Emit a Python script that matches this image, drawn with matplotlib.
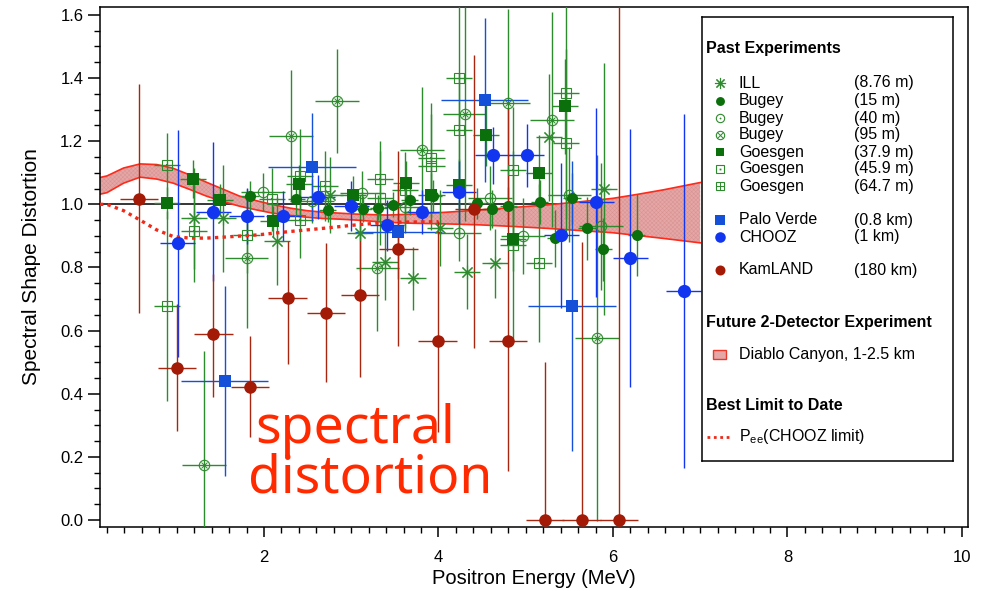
import numpy as np
import matplotlib
matplotlib.use("Agg")
import matplotlib.pyplot as plt
from matplotlib.ticker import MultipleLocator
from matplotlib.patches import Rectangle

plt.rcParams['font.family'] = ['Liberation Sans', 'DejaVu Sans']
plt.rcParams['hatch.linewidth'] = 0.35

# ---- data ----
# KamLAND (180 km)
kam_e = [0.57, 1.00, 1.42, 1.84, 2.27, 2.71, 3.10, 3.54, 3.99, 4.41, 4.80, 5.22, 5.64, 6.07]
kam_v = [1.017, 0.483, 0.59, 0.422, 0.703, 0.657, 0.713, 0.86, 0.568, 0.984, 0.566, 0.0, 0.0, 0.0]
kam_lo = [0.36, 0.20, 0.20, 0.16, 0.21, 0.22, 0.26, 0.31, 0.29, 0.44, 0.41, 0.0, 0.0, 0.0]
kam_hi = [0.365, 0.20, 0.19, 0.16, 0.18, 0.22, 0.24, 0.31, 0.38, 0.49, 0.74, 0.50, 0.88, 1.65]
kam_ex = 0.22

# CHOOZ (1 km)
ch_e = [1.01, 1.42, 1.80, 2.22, 2.615, 3.00, 3.41, 3.81, 4.235, 4.62, 5.01, 5.41, 5.81, 6.20, 6.81]
ch_v = [0.877, 0.977, 0.963, 0.963, 1.022, 0.994, 0.933, 0.976, 1.038, 1.155, 1.155, 0.902, 1.006, 0.83, 0.726]
ch_ey = [0.36, 0.22, 0.09, 0.08, 0.07, 0.08, 0.08, 0.07, 0.10, 0.09, 0.10, 0.23, 0.30, 0.41, 0.56]
ch_ex = 0.2

# Palo Verde (0.8 km)
pv_e = [1.55, 2.55, 3.54, 4.53, 5.53]
pv_v = [0.44, 1.118, 0.912, 1.331, 0.678]
pv_ey = [0.30, 0.17, 0.15, 0.26, 0.46]
pv_ex = 0.5

# ILL (8.76 m)
ill_e = [1.20, 1.53, 2.15, 2.76, 3.10, 3.39, 3.71, 4.02, 4.33, 4.65, 5.27, 5.90]
ill_v = [0.956, 0.956, 0.883, 1.03, 0.91, 0.816, 0.766, 0.924, 0.787, 0.813, 1.212, 1.048]
ill_ey = [0.16, 0.17, 0.14, 0.12, 0.12, 0.12, 0.10, 0.12, 0.12, 0.11, 0.20, 0.40]
ill_ex = 0.15

# Bugey (15 m)
b15_e = [1.84, 2.37, 2.73, 3.14, 3.31, 3.48, 3.67, 3.94, 4.44, 4.61, 4.80, 5.16, 5.34, 5.53, 5.70, 5.89, 6.27]
b15_v = [1.025, 1.017, 0.983, 0.985, 0.989, 0.999, 1.015, 1.026, 1.003, 0.984, 0.994, 1.008, 0.892, 1.019, 0.924, 0.858, 0.903]
b15_ey = [0.05, 0.05, 0.04, 0.04, 0.04, 0.04, 0.05, 0.05, 0.05, 0.06, 0.06, 0.07, 0.09, 0.08, 0.10, 0.10, 0.13]
b15_ex = 0.1

# Bugey (40 m)
b40_e = [1.99, 2.55, 3.12, 3.62, 4.235, 4.59, 4.97, 5.50, 5.86]
b40_v = [1.04, 1.01, 1.036, 0.99, 0.91, 1.02, 0.899, 1.03, 0.93]
b40_ey = [0.06, 0.07, 0.07, 0.08, 0.09, 0.10, 0.12, 0.15, 0.20]
b40_ex = 0.25

# Bugey (95 m)
b95_e = [1.31, 1.80, 2.31, 2.84, 3.30, 3.81, 4.30, 4.80, 5.30, 5.82]
b95_v = [0.174, 0.829, 1.217, 1.328, 0.798, 1.172, 1.286, 1.32, 1.268, 0.577]
b95_ey = [0.36, 0.22, 0.21, 0.165, 0.20, 0.20, 0.34, 0.30, 0.34, 0.58]
b95_ex = 0.25

# Goesgen (37.9 m)
g38_e = [0.885, 1.19, 1.50, 2.10, 2.40, 3.02, 3.63, 3.92, 4.235, 4.545, 4.85, 5.15, 5.45]
g38_v = [1.005, 1.079, 1.014, 0.946, 1.065, 1.03, 1.067, 1.03, 1.062, 1.22, 0.889, 1.10, 1.31]
g38_ey = [0.05, 0.06, 0.05, 0.05, 0.06, 0.06, 0.07, 0.07, 0.08, 0.10, 0.10, 0.12, 0.15]
g38_ex = 0.15

# Goesgen (45.9 m)
g46_e = [0.885, 1.20, 1.80, 2.09, 2.41, 2.70, 3.33, 3.62, 3.92, 4.235, 4.85, 5.15, 5.46]
g46_v = [1.125, 0.914, 0.903, 1.016, 0.95, 1.058, 1.079, 1.046, 1.146, 1.236, 1.109, 0.813, 1.193]
g46_ey = [0.10, 0.16, 0.12, 0.10, 0.12, 0.11, 0.12, 0.12, 0.14, 0.18, 0.20, 0.25, 0.30]
g46_ex = 0.15

# Goesgen (64.7 m)
g65_e = [0.885, 2.41, 3.33, 3.92, 4.235, 4.85, 5.46]
g65_v = [0.678, 1.09, 1.02, 1.12, 1.40, 0.87, 1.352]
g65_ey = [0.30, 0.15, 0.15, 0.20, 0.50, 0.30, 0.40]
g65_ex = 0.15

# Diablo Canyon band
band_e = [0.12, 0.2, 0.39, 0.58, 0.77, 0.96, 1.15, 1.34, 1.53, 1.72, 1.92, 2.10, 2.30,
          2.49, 2.68, 2.87, 3.06, 3.41, 3.71, 4.09, 4.47, 4.85, 5.24, 5.62, 6.0, 6.29, 6.58, 7.0]
band_hi = [1.085, 1.09, 1.115, 1.128, 1.126, 1.114, 1.093, 1.07, 1.048, 1.026, 1.011, 0.999, 0.988,
           0.98, 0.975, 0.972, 0.969, 0.966, 0.969, 0.975, 0.982, 0.99, 0.998, 1.008, 1.019, 1.032, 1.046, 1.069]
band_lo = [1.032, 1.037, 1.067, 1.086, 1.080, 1.067, 1.047, 1.026, 1.009, 0.994, 0.982, 0.972, 0.965,
           0.959, 0.955, 0.953, 0.950, 0.943, 0.940, 0.938, 0.935, 0.930, 0.924, 0.917, 0.910, 0.901, 0.892, 0.878]

# CHOOZ limit (dotted)
lim_e = [0.12, 0.2, 0.39, 0.58, 0.77, 0.96, 1.15, 1.34, 1.53, 1.92, 2.30, 2.68, 3.06, 3.41, 4.0]
lim_v = [1.0, 1.0, 0.98, 0.95, 0.919, 0.898, 0.893, 0.893, 0.896, 0.903, 0.914, 0.924, 0.935, 0.943, 0.945]

# ---- colours / marker styles ----
GREEN = '#0b700b'
GREEN_L = '#2d8a2d'
BLUE = '#1236f0'
PV_BLUE = '#1450d8'
KAM = '#a31a06'
KAM_L = '#a8260f'
BAND_FACE = '#e5a6a6'
BAND_HATCH = '#d89292'

styles = {
    'ill': [dict(marker=(8, 2, 0), ms=10, mec=GREEN_L, mew=0.8, mfc='none')],
    'b15': [dict(marker='o', ms=8, mfc=GREEN, mec=GREEN, mew=0)],
    'b40': [dict(marker='o', ms=7.5, mfc='none', mec=GREEN_L, mew=0.8),
            dict(marker='o', ms=1.6, mfc=GREEN_L, mec=GREEN_L, mew=0)],
    'b95': [dict(marker='o', ms=7.5, mfc='none', mec=GREEN_L, mew=0.8),
            dict(marker='x', ms=4.6, mec=GREEN_L, mew=0.7)],
    'g38': [dict(marker='s', ms=8, mfc=GREEN, mec=GREEN, mew=0)],
    'g46': [dict(marker='s', ms=7.5, mfc='none', mec=GREEN_L, mew=0.8),
            dict(marker='s', ms=1.6, mfc=GREEN_L, mec=GREEN_L, mew=0)],
    'g65': [dict(marker='s', ms=7.5, mfc='none', mec=GREEN_L, mew=0.8),
            dict(marker='+', ms=7.0, mec=GREEN_L, mew=0.7)],
    'pv': [dict(marker='s', ms=9, mfc=PV_BLUE, mec=PV_BLUE, mew=0)],
    'ch': [dict(marker='o', ms=9.5, mfc=BLUE, mec=BLUE, mew=0)],
    'kam': [dict(marker='o', ms=9, mfc=KAM, mec=KAM, mew=0)],
}


def draw_markers(a, x, y, kind, z=5):
    for kw in styles[kind]:
        a.plot(x, y, ls='none', zorder=z, **kw)


W, H = 986, 591
fig = plt.figure(figsize=(W / 100, H / 100), dpi=100)
ax = fig.add_axes([100 / W, 1 - 527 / H, 868 / W, 520 / H])
ax.set_xlim(0.12, 10.07)
ax.set_ylim(-0.022, 1.625)

# reference line and band
ax.hlines(1.0, 0.12, 7.0, color='black', lw=1.1, zorder=1)
ax.fill_between(band_e, band_lo, band_hi, facecolor=BAND_FACE, edgecolor=BAND_HATCH,
                hatch='xxxxxxxx', linewidth=0, zorder=2)
ax.plot(band_e, band_hi, color='#ff2a1a', lw=1.2, zorder=2.5)
ax.plot(band_e, band_lo, color='#ff2a1a', lw=1.2, zorder=2.5)

# error bars
series = [
    (g65_e, g65_v, g65_ex, g65_ey, GREEN_L, 'g65'),
    (g46_e, g46_v, g46_ex, g46_ey, GREEN_L, 'g46'),
    (b95_e, b95_v, b95_ex, b95_ey, GREEN_L, 'b95'),
    (b40_e, b40_v, b40_ex, b40_ey, GREEN_L, 'b40'),
    (ill_e, ill_v, ill_ex, ill_ey, GREEN_L, 'ill'),
    (g38_e, g38_v, g38_ex, g38_ey, GREEN_L, 'g38'),
    (b15_e, b15_v, b15_ex, b15_ey, GREEN_L, 'b15'),
    (pv_e, pv_v, pv_ex, pv_ey, PV_BLUE, 'pv'),
    (ch_e, ch_v, ch_ex, ch_ey, BLUE, 'ch'),
]
for e, v, ex, ey, col, kind in series:
    ax.errorbar(e, v, xerr=ex, yerr=ey, fmt='none', ecolor=col, elinewidth=1.0,
                capsize=0, zorder=3)
ax.errorbar(kam_e, kam_v, xerr=kam_ex, yerr=[kam_lo, kam_hi], fmt='none',
            ecolor=KAM_L, elinewidth=1.0, capsize=0, zorder=3)

for e, v, ex, ey, col, kind in series:
    draw_markers(ax, e, v, kind)
draw_markers(ax, kam_e, kam_v, 'kam')

# CHOOZ limit
ax.plot(lim_e, lim_v, ls=(0, (1, 1.3)), color='#ee2a1a', lw=2.4, zorder=4)

# axes styling
ax.xaxis.set_major_locator(MultipleLocator(2))
ax.xaxis.set_minor_locator(MultipleLocator(0.2))
ax.yaxis.set_major_locator(MultipleLocator(0.2))
ax.yaxis.set_minor_locator(MultipleLocator(0.05))
ax.tick_params(axis='x', which='major', direction='out', length=7.5, width=1.1,
               pad=9, labelsize=12)
ax.tick_params(axis='x', which='minor', direction='out', length=4, width=1.0)
ax.tick_params(axis='y', which='major', direction='out', length=9, width=1.1,
               pad=3, labelsize=12)
ax.tick_params(axis='y', which='minor', direction='out', length=4.5, width=1.0)
ax.set_yticklabels([f'{t:.1f}' for t in ax.get_yticks()])
for s in ax.spines.values():
    s.set_linewidth(1.1)
ax.set_xlabel('Positron Energy (MeV)', fontsize=14.5, labelpad=3)
ax.set_ylabel('Spectral Shape Distortion', fontsize=15, labelpad=14)

# handwritten annotation
ax.text(1.897, 0.244, 'spectral', color='#ff2a00', fontsize=38.5,
        family=['Noto Sans', 'DejaVu Sans'], va='baseline', ha='left', zorder=6)
ax.text(1.817, 0.086, 'distortion', color='#ff2a00', fontsize=38.5,
        family=['Noto Sans', 'DejaVu Sans'], va='baseline', ha='left', zorder=6)

# ---- legend box (pixel coordinates inside the box) ----
lx0, ly0, lx1, ly1 = 702, 17, 953, 461
lax = fig.add_axes([lx0 / W, 1 - ly1 / H, (lx1 - lx0) / W, (ly1 - ly0) / H])
lax.set_xlim(0, lx1 - lx0)
lax.set_ylim(ly1 - ly0, 0)
lax.set_xticks([])
lax.set_yticks([])
lax.set_facecolor('white')
for s in lax.spines.values():
    s.set_linewidth(1.1)

fs = 11.5
lax.text(4, 31, 'Past Experiments', fontsize=fs, fontweight='bold', va='center')
rows = [
    (66, 'ill', 'ILL', '(8.76 m)'),
    (84, 'b15', 'Bugey', '(15 m)'),
    (101, 'b40', 'Bugey', '(40 m)'),
    (118, 'b95', 'Bugey', '(95 m)'),
    (135, 'g38', 'Goesgen', '(37.9 m)'),
    (152, 'g46', 'Goesgen', '(45.9 m)'),
    (169, 'g65', 'Goesgen', '(64.7 m)'),
    (203, 'pv', 'Palo Verde', '(0.8 km)'),
    (220, 'ch', 'CHOOZ', '(1 km)'),
    (253, 'kam', 'KamLAND', '(180 km)'),
]
for y, kind, name, dist in rows:
    for kw in styles[kind]:
        kw2 = dict(kw)
        kw2['ms'] = kw2['ms'] * 0.8
        lax.plot([18], [y], ls='none', **kw2)
    lax.text(37, y, name, fontsize=fs, va='center')
    lax.text(152, y, dist, fontsize=fs, va='center')

lax.text(4, 305, 'Future 2-Detector Experiment', fontsize=fs, fontweight='bold', va='center')
lax.add_patch(Rectangle((11, 333), 13, 9, facecolor=BAND_FACE, edgecolor='#e83a2a', lw=1.0))
lax.text(37, 338, 'Diablo Canyon, 1-2.5 km', fontsize=fs, va='center')
lax.text(4, 388, 'Best Limit to Date', fontsize=fs, fontweight='bold', va='center')
lax.plot([5, 27], [420, 420], ls=(0, (1, 1.3)), color='#ee2a1a', lw=2.0)
lax.text(37, 420, r'P$_{\mathregular{ee}}$(CHOOZ limit)', fontsize=fs, va='center')

fig.savefig('out.png', dpi=100)
